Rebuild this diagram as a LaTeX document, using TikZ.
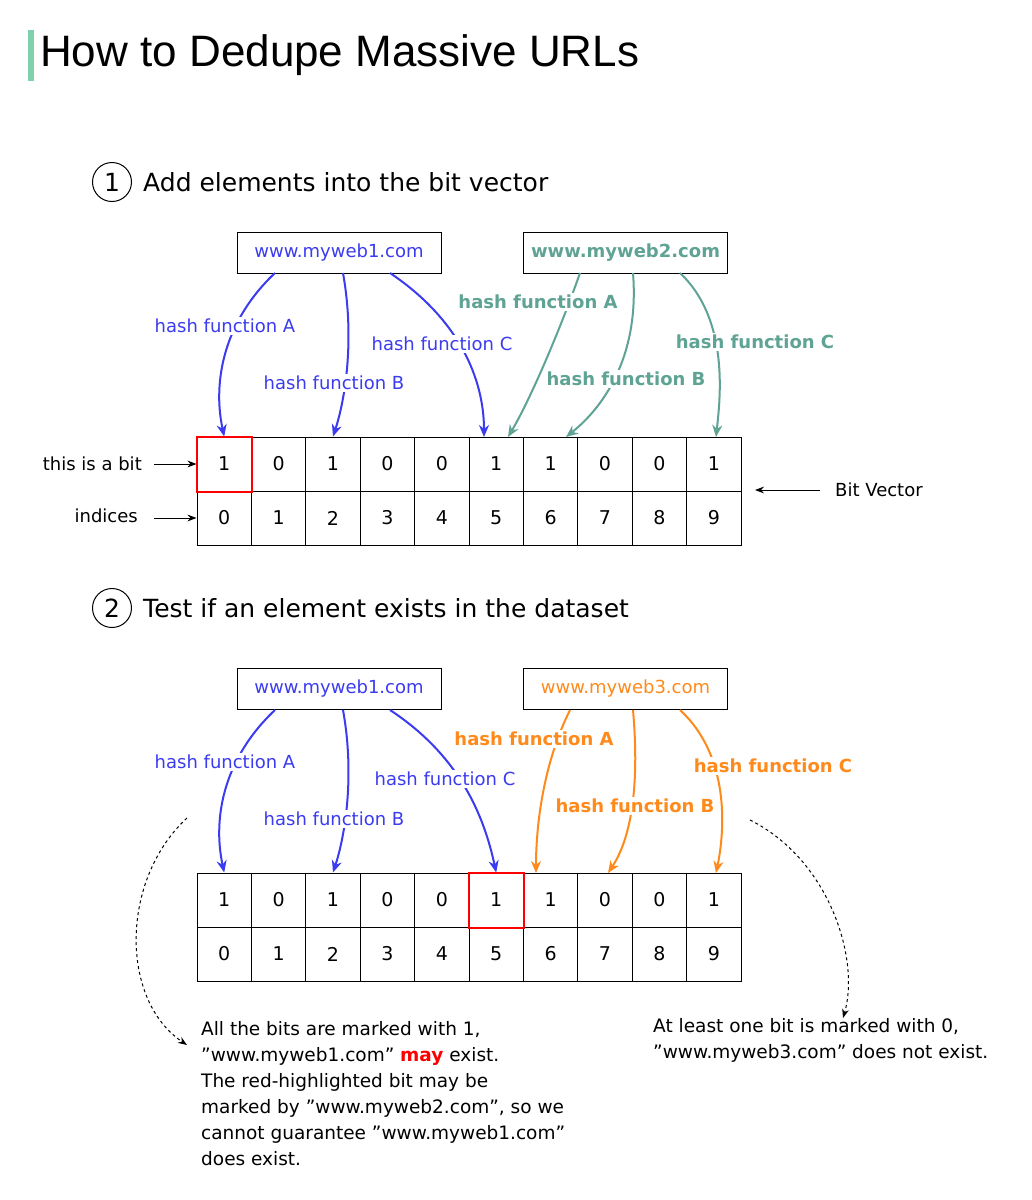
\documentclass[tikz,border=0pt]{standalone}
\usepackage{fontspec}
\setmainfont{DejaVu Sans}
\newfontfamily\titlefont{Liberation Sans}
\usetikzlibrary{arrows.meta,calc}
\newcommand\myqq{\symbol{34}}
\definecolor{hblue}{HTML}{3B3BF0}
\definecolor{hgreen}{HTML}{5FA394}
\definecolor{horange}{HTML}{FF8A1C}
\definecolor{hbar}{HTML}{7FD1AE}
\tikzset{
  cell/.style={draw,line width=1pt,minimum width=54.4pt,minimum height=54pt,inner sep=0pt,font=\fontsize{19}{22}\selectfont},
  urlbox/.style={draw,line width=1pt,minimum width=204pt,minimum height=41pt,font=\fontsize{18}{22}\selectfont},
  harrow/.style={line width=2pt,-{Stealth[length=12pt,width=10pt]}},
  hlab/.style={fill=white,inner sep=2pt,font=\fontsize{18}{22}\selectfont},
  body/.style={font=\fontsize{18.5}{26}\selectfont,align=left,inner sep=0pt},
  head/.style={font=\fontsize{25}{30}\selectfont,anchor=west,inner sep=0pt},
  num/.style={draw,circle,line width=1pt,minimum size=39pt,inner sep=0pt,font=\fontsize{25}{30}\selectfont},
  sarrow/.style={line width=1pt,-{Stealth[length=9pt]}},
}
\begin{document}
\begin{tikzpicture}[x=1pt,y=-1pt]
\useasboundingbox[fill=white] (0,0) rectangle (1032,1200);
\fill[hbar] (28,30) rectangle (34,81);
\node[anchor=west,inner sep=0pt,font=\titlefont\fontsize{44}{50}\selectfont] (title) at (40,55) {How to Dedupe Massive URLs};
% section 1
\node[num] (n1) at (112,182) {1};
\node[head] (h1) at (143,182) {Add elements into the bit vector};
\node[urlbox,text=hblue] (u1) at (339,252.5) {www.myweb1.com};
\node[urlbox,text=hgreen,font=\fontsize{18}{22}\selectfont\bfseries] (u2) at (625.5,252.5) {www.myweb2.com};
\foreach \b [count=\i from 0] in {1,0,1,0,0,1,1,0,0,1}{
  \node[cell] (a\i) at ({197+54.4*(\i+0.5)},464) {\b};
  \node[cell] (ai\i) at ({197+54.4*(\i+0.5)},518) {\i};
}
\draw[red,line width=2pt] (a0.north west) rectangle (a0.south east);
\node[anchor=east,inner sep=0pt,font=\fontsize{18}{22}\selectfont] (bit) at (142,464) {this is a bit};
\draw[sarrow] ($(bit.east)+(12,0)$) -- (a0.west);
\node[anchor=east,inner sep=0pt,font=\fontsize{18}{22}\selectfont] (idx) at (138,516) {indices};
\draw[sarrow] ($(idx.east)+(16,2)$) -- (ai0.west);
\node[anchor=west,inner sep=0pt,font=\fontsize{18}{22}\selectfont] (bv) at (835,490) {Bit Vector};
\coordinate (bvend) at (755,490);
\draw[sarrow] ($(bv.west)+(-15,0)$) -- (bvend);
\draw[harrow,hblue] (275,273) .. controls (225,320) and (212,380) .. (a0.north);
\draw[harrow,hblue] (343,273) .. controls (355,340) and (345,400) .. (a2.north);
\draw[harrow,hblue] (390,273) .. controls (460,320) and (484,380) .. (484,437);
\draw[harrow,hgreen] (580,273) .. controls (560,330) and (530,400) .. (508,437);
\draw[harrow,hgreen] (633,273) .. controls (640,360) and (600,410) .. (566,437);
\draw[harrow,hgreen] (680,273) .. controls (730,320) and (720,400) .. (716,437);
\node[hlab,text=hblue] (l1a) at (225,326) {hash function A};
\node[hlab,text=hblue] (l1b) at (334,383) {hash function B};
\node[hlab,text=hblue] (l1c) at (442,344) {hash function C};
\node[hlab,text=hgreen,font=\fontsize{18}{22}\selectfont\bfseries] (l2a) at (538,302) {hash function A};
\node[hlab,text=hgreen,font=\fontsize{18}{22}\selectfont\bfseries] (l2b) at (626,379) {hash function B};
\node[hlab,text=hgreen,font=\fontsize{18}{22}\selectfont\bfseries] (l2c) at (755,342) {hash function C};
% section 2
\node[num] (n2) at (112,608) {2};
\node[head] (h2) at (143,608) {Test if an element exists in the dataset};
\node[urlbox,text=hblue] (v1) at (339,689) {www.myweb1.com};
\node[urlbox,text=horange] (v3) at (625.5,689) {www.myweb3.com};
\foreach \b [count=\i from 0] in {1,0,1,0,0,1,1,0,0,1}{
  \node[cell] (b\i) at ({197+54.4*(\i+0.5)},900) {\b};
  \node[cell] (bi\i) at ({197+54.4*(\i+0.5)},954) {\i};
}
\draw[red,line width=2pt] (b5.north west) rectangle (b5.south east);
\draw[harrow,hblue] (275,710) .. controls (225,757) and (212,816) .. (b0.north);
\draw[harrow,hblue] (343,710) .. controls (355,776) and (345,836) .. (b2.north);
\draw[harrow,hblue] (390,710) .. controls (460,756) and (484,816) .. (b5.north);
\draw[harrow,horange] (570,710) .. controls (545,760) and (536,820) .. (536,873);
\draw[harrow,horange] (633,710) .. controls (640,790) and (630,840) .. (608,873);
\draw[harrow,horange] (680,710) .. controls (730,756) and (725,830) .. (716,873);
\node[hlab,text=hblue] (m1a) at (225,762) {hash function A};
\node[hlab,text=hblue] (m1b) at (334,819) {hash function B};
\node[hlab,text=hblue] (m1c) at (445,779) {hash function C};
\node[hlab,text=horange,font=\fontsize{18}{22}\selectfont\bfseries] (m3a) at (534,739) {hash function A};
\node[hlab,text=horange,font=\fontsize{18}{22}\selectfont\bfseries] (m3b) at (635,806) {hash function B};
\node[hlab,text=horange,font=\fontsize{18}{22}\selectfont\bfseries] (m3c) at (773,766) {hash function C};
\node[body,anchor=north west] (t1) at (201,1021) {All the bits are marked with 1,\\
\myqq www.myweb1.com\myqq{} {\color{red}\bfseries may} exist.\\
The red-highlighted bit may be\\
marked by \myqq www.myweb2.com\myqq, so we\\
cannot guarantee \myqq www.myweb1.com\myqq\\
does exist.};
\node[body,anchor=north west] (t2) at (653,1018) {At least one bit is marked with 0,\\
\myqq www.myweb3.com\myqq{} does not exist.};
\coordinate (d1) at (187,818);
\coordinate (d2) at (750,820);
\draw[dashed,line width=1pt,-{Stealth[length=9pt]}] (d1) .. controls (120,880) and (120,1000) .. (187,1045);
\draw[dashed,line width=1pt,-{Stealth[length=9pt]}] (d2) .. controls (830,860) and (860,960) .. (843,1018);
\end{tikzpicture}
\end{document}
